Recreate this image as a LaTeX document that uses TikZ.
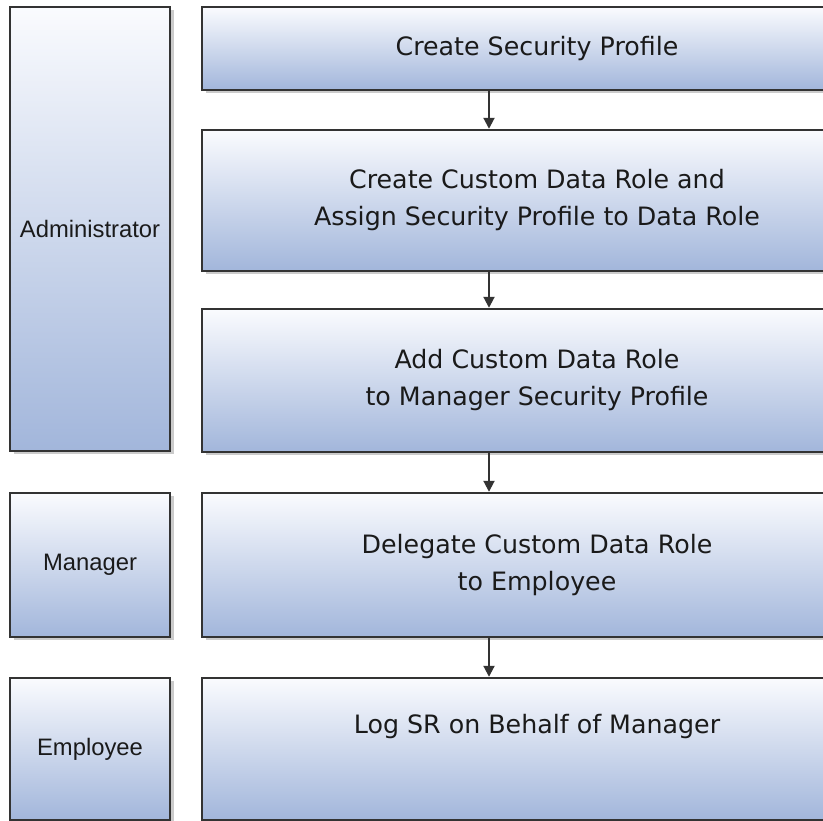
\documentclass[tikz,border=0pt]{standalone}
\usepackage{fontspec}
\newfontfamily\rfont{DejaVu Sans}
\newfontfamily\lfont{Liberation Sans}
\usetikzlibrary{shadows,arrows.meta}
\definecolor{boxtop}{HTML}{FAFBFE}
\definecolor{boxbot}{HTML}{A2B6DB}
\definecolor{boxline}{HTML}{333333}
\definecolor{txt}{HTML}{1A1A1A}
\tikzset{
  panel/.style={draw=boxline, line width=2.4pt, top color=boxtop, bottom color=boxbot,
    rectangle, inner sep=0pt, text=txt,
    drop shadow={shadow xshift=3.5pt, shadow yshift=-3.5pt, fill=black!45, opacity=0.45}},
  rolebox/.style={panel, font=\lfont\fontsize{23.8}{28}\selectfont, minimum width=160pt},
  stepbox/.style={panel, font=\rfont\fontsize{25.3}{37}\selectfont, align=center, minimum width=670pt},
  steptext/.style={font=\rfont\fontsize{25.3}{37}\selectfont, align=center, text=txt, inner sep=0pt},
  flow/.style={draw=boxline, line width=2pt, -{Triangle[length=11pt,width=11pt]}}
}
\begin{document}
\begin{tikzpicture}[x=1pt,y=1pt]
\useasboundingbox (0,0) rectangle (823,821);
\clip (0,0) rectangle (823,821);
% role boxes
\node[rolebox, minimum height=444pt] (adm) at (90,592) {Administrator};
\node[rolebox, minimum height=144pt] (mgr) at (90,256) {Manager};
\node[rolebox, minimum height=142pt] (emp) at (90,72) {Employee};
% step boxes (x 202 .. 872)
\node[stepbox, minimum height=83pt] (b1) at (537,772.5) {Create Security Profile};
\node[stepbox, minimum height=141pt] (b2) at (537,620.5) {Create Custom Data Role and\\Assign Security Profile to Data Role};
\node[stepbox, minimum height=143pt] (b3) at (537,440.5) {Add Custom Data Role\\to Manager Security Profile};
\node[stepbox, minimum height=144pt] (b4) at (537,256) {Delegate Custom Data Role\\to Employee};
\node[stepbox, minimum height=142pt] (b5) at (537,72) {};
\node[steptext] (t5) at (b5.center |- 0,94) {Log SR on Behalf of Manager};
% arrows
\coordinate (ax) at (489,0);
\draw[flow] (b1.south -| ax) -- (b2.north -| ax);
\draw[flow] (b2.south -| ax) -- (b3.north -| ax);
\draw[flow] (b3.south -| ax) -- (b4.north -| ax);
\draw[flow] (b4.south -| ax) -- (b5.north -| ax);
\end{tikzpicture}
\end{document}
